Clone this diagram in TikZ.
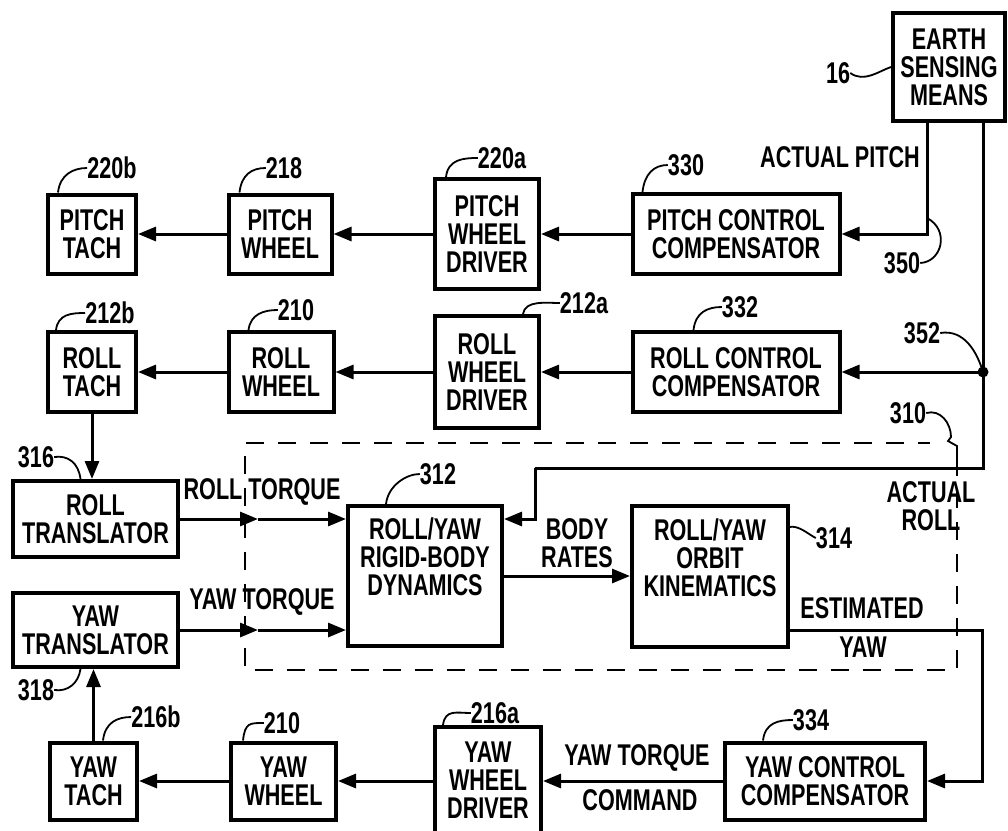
\documentclass[tikz,border=0pt]{standalone}
\usepackage{fontspec}
\setmainfont{Liberation Sans}[FakeStretch=0.72]
\usetikzlibrary{arrows.meta}
\newcommand\dfont{\fontsize{30}{28}\selectfont\bfseries}
\begin{document}
\begin{tikzpicture}[x=1pt,y=-1pt,
 every node/.style={font=\dfont, inner sep=0pt},
 box/.style={draw, line width=4pt, align=center},
 conn/.style={line width=3pt},
 arr/.style={conn,-{Triangle[length=18pt,width=14pt]}},
 lead/.style={line width=1.8pt},
 dbox/.style={line width=2.8pt, dash pattern=on 18pt off 14pt}]
\useasboundingbox (0,0) rectangle (1008,830);
\clip (0,0) rectangle (1008,830);

% boxes
\node[box,minimum width=112pt,minimum height=108pt] (earth) at (949,67) {EARTH\\SENSING\\MEANS};

\node[box,minimum width=88pt,minimum height=79pt] (ptach) at (92,234) {PITCH\\TACH};
\node[box,minimum width=103pt,minimum height=79pt] (pwheel) at (280,234) {PITCH\\WHEEL};
\node[box,minimum width=104pt,minimum height=110pt] (pdriver) at (487,234) {PITCH\\WHEEL\\DRIVER};
\node[box,minimum width=207pt,minimum height=80pt] (pcomp) at (736,234) {PITCH CONTROL\\COMPENSATOR};

\node[box,minimum width=88pt,minimum height=80pt] (rtach) at (92,372) {ROLL\\TACH};
\node[box,minimum width=105pt,minimum height=80pt] (rwheel) at (281,372) {ROLL\\WHEEL};
\node[box,minimum width=104pt,minimum height=112pt] (rdriver) at (487,372) {ROLL\\WHEEL\\DRIVER};
\node[box,minimum width=207pt,minimum height=80pt] (rcomp) at (736,372) {ROLL CONTROL\\COMPENSATOR};

\node[box,minimum width=165pt,minimum height=76pt] (rtrans) at (95.5,519) {ROLL\\TRANSLATOR};
\node[box,minimum width=165pt,minimum height=74pt] (ytrans) at (95.5,630) {YAW\\TRANSLATOR};

\node[box,minimum width=154pt,minimum height=140pt] (rb) at (425,576) {};
\node[align=center] (rbtext) at (425,557) {ROLL/YAW\\RIGID-BODY\\DYNAMICS};
\node[box,minimum width=156pt,minimum height=141pt] (orb) at (710,576) {};
\node[align=center] (orbtext) at (710,558) {ROLL/YAW\\ORBIT\\KINEMATICS};

\node[box,minimum width=87pt,minimum height=77pt] (ytach) at (93.5,781) {YAW\\TACH};
\node[box,minimum width=105pt,minimum height=77pt] (ywheel) at (283.5,781) {YAW\\WHEEL};
\node[box,minimum width=106pt,minimum height=106pt] (ydriver) at (488,780) {YAW\\WHEEL\\DRIVER};
\node[box,minimum width=200pt,minimum height=77pt] (ycomp) at (825,781) {YAW CONTROL\\COMPENSATOR};

% dashed group 310
\draw[dbox] (957,458) -- (957,670) -- (245,670) -- (245,443) -- (930,443);

% coordinates
\coordinate (j352) at (983,372);
\coordinate (fbc) at (983,468);
\coordinate (fbd) at (535,468);
\coordinate (eyc) at (982,630);
\coordinate (rtmid) at (258,519);
\coordinate (ytmid) at (258,630);
\coordinate (p350) at (927,218);
\coordinate (p314) at (789,527);

% pitch row
\draw[arr] ([xshift=-22pt]earth.south) |- (pcomp.east);
\draw[arr] (pcomp.west) -- (pdriver.east);
\draw[arr] (pdriver.west) -- (pwheel.east);
\draw[arr] (pwheel.west) -- (ptach.east);

% roll row
\draw[conn] ([xshift=34pt]earth.south) -- (j352) -- (fbc) -- (fbd);
\draw[arr] (fbd) |- (rb.east |- rtrans.east);
\draw[arr] (j352) -- (rcomp.east);
\fill (j352) circle (5.5pt);
\draw[arr] (rcomp.west) -- (rdriver.east);
\draw[arr] (rdriver.west) -- (rwheel.east);
\draw[arr] (rwheel.west) -- (rtach.east);
\draw[arr] (rtach.south) -- (rtach.south |- rtrans.north);

% torques
\draw[arr] (rtrans.east) -- (rtmid);
\draw[arr] (rtmid) -- (rb.west |- rtmid);
\draw[arr] (ytrans.east) -- (ytmid);
\draw[arr] (ytmid) -- (rb.west |- ytmid);
\draw[arr] (rb.east) -- (orb.west);

% estimated yaw
\draw[arr] (orb.east |- ytrans.east) -- (eyc) |- (ycomp.east);

% yaw row
\draw[arr] (ycomp.west) -- (ycomp.west -| ydriver.east);
\draw[arr] (ydriver.west |- ywheel.east) -- (ywheel.east);
\draw[arr] (ywheel.west) -- (ytach.east);
\draw[arr] (ytach.north) -- (ytach.north |- ytrans.south);

% signal labels
\node[anchor=east] (lap) at (920,157) {ACTUAL PITCH};
\node[align=center] (lar) at (931,506) {ACTUAL\\ROLL};
\node (lest) at (862,608) {ESTIMATED};
\node (leyaw) at (863,647) {YAW};
\node[align=center] (lbr) at (577,543) {BODY\\RATES};
\node (lrt) at (262,492) {ROLL TORQUE};
\node (lyt) at (262,602) {YAW TORQUE};
\node (lytc) at (637,758) {YAW TORQUE};
\node (lcmd) at (640,800) {COMMAND};

% reference numerals
\node (l16) at (838,73) {16};
\node (l350) at (902,263) {350};
\node (l352) at (922,333) {352};
\node (l310) at (908,413) {310};
\node (l314) at (834,538) {314};
\node (l312) at (438,474) {312};
\node (l316) at (36,457) {316};
\node (l318) at (36,690) {318};
\node (l220b) at (112,168) {220b};
\node (l218) at (284,168) {218};
\node (l220a) at (502,158) {220a};
\node (l330) at (686,165) {330};
\node (l212b) at (110,313) {212b};
\node (l210r) at (296,310) {210};
\node (l212a) at (584,303) {212a};
\node (l332) at (740,307) {332};
\node (l216b) at (156,717) {216b};
\node (l210y) at (282,723) {210};
\node (l216a) at (495,713) {216a};
\node (l334) at (811,720) {334};

% leaders
\draw[lead] (l16.east) .. controls +(14,10) and +(-12,4) .. (earth.west);
\draw[lead] (l350.east) .. controls (942,262) and (950,230) .. (p350);
\draw[lead] (l352.east) .. controls +(24,-4) and +(-6,-20) .. (j352);
\draw[lead] (l310.east) .. controls +(14,-4) and +(0,-14) .. (951,437) -- (948,441) -- (957,446) -- (957,458);
\draw[lead] (p314) .. controls +(10,-2) and +(-8,-4) .. (l314.west);
\draw[lead] ([xshift=40pt]rb.north west) .. controls +(2,-18) and +(-14,0) .. (l312.west);
\draw[lead] (l316.east) .. controls +(14,-2) and +(-2,-16) .. ([xshift=-15pt]rtrans.north);
\draw[lead] (l318.east) .. controls +(14,2) and +(-2,14) .. ([xshift=-15pt]ytrans.south);
\draw[lead] ([xshift=12pt]ptach.north west) .. controls +(2,-18) and +(-14,0) .. (l220b.west);
\draw[lead] ([xshift=13pt]pwheel.north west) .. controls +(2,-18) and +(-14,0) .. (l218.west);
\draw[lead] ([xshift=13pt]pdriver.north west) .. controls +(2,-18) and +(-14,0) .. (l220a.west);
\draw[lead] ([xshift=12pt]pcomp.north west) .. controls +(2,-18) and +(-14,0) .. (l330.west);
\draw[lead] ([xshift=10pt]rtach.north west) .. controls +(2,-16) and +(-14,0) .. (l212b.west);
\draw[lead] ([xshift=22pt]rwheel.north west) .. controls +(2,-16) and +(-14,0) .. (l210r.west);
\draw[lead] ([xshift=90pt]rdriver.north west) .. controls +(2,-14) and +(-14,0) .. (l212a.west);
\draw[lead] ([xshift=63pt]rcomp.north west) .. controls +(2,-18) and +(-14,0) .. (l332.west);
\draw[lead] ([xshift=55pt]ytach.north west) .. controls +(2,-18) and +(-14,0) .. (l216b.west);
\draw[lead] ([xshift=14pt]ywheel.north west) .. controls +(2,-18) and +(-14,0) .. (l210y.west);
\draw[lead] ([xshift=10pt]ydriver.north west) .. controls +(2,-16) and +(-14,0) .. (l216a.west);
\draw[lead] ([xshift=40pt]ycomp.north west) .. controls +(2,-18) and +(-14,0) .. (l334.west);
\end{tikzpicture}
\end{document}
